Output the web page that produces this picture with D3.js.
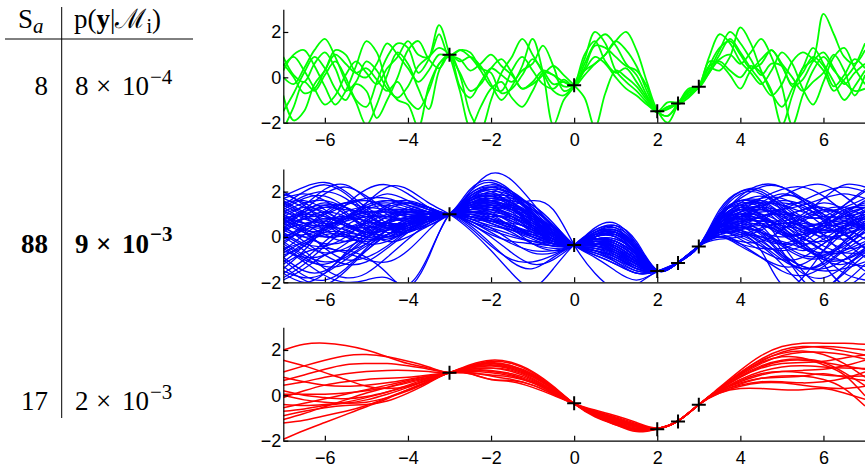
<!DOCTYPE html>
<html lang="en">
<head>
  <meta charset="utf-8">
  <script src="https://cdn.jsdelivr.net/npm/d3@7/dist/d3.min.js"></script>
  <title></title>
  <style>
    body { margin: 0; background: #fff; }
    .axis path, .axis line { stroke: #000; stroke-width: 1.2px; }
    .axis text { font-family: 'Liberation Sans', Arial, sans-serif; font-size: 18px; fill: #000; }
  </style>
</head>
<body>
<div id="chart"></div>
<script>
// ---- data ----
var xTicks = [-6, -4, -2, 0, 2, 4, 6];
var yTicks = [-2, 0, 2];

// observations (black crosses)
var obsX = [-3, 0, 2, 2.5, 3];
var obsY = [1.0, -0.35, -1.5, -1.15, -0.42];

// table
var sampleCounts = [8, 88, 17];
var evidenceMantissa = [8, 9, 2];
var evidenceExponent = [-4, -3, -3];

// samples: green every 0.25 from -7, blue and red every 0.5 from -7
var greenStep = 0.25, blueStep = 0.5, redStep = 0.5;

var greenSamples = [
  [0.9,0.1,-0.2,0.6, 1.1,0.4,-0.6,-0.2, 0.7,0.3,-0.5,-0.9, -0.4,0.5,0.9,1.3, 1.0,0.2,-0.6,-0.3, 0.4,0.8,0.2,-0.5, -0.2,0.3,0.1,-0.2, -0.35,0.6,1.5,1.9, 1.4,0.6,0.1,-0.8, -1.5,-1.7,-1.15,-0.6, -0.42,0.5,1.3,1.6, 1.0,0.4,0.8,1.2, 0.5,-0.3,0.2,0.9, 0.5,-0.4,0.1,0.8, 0.4],
  [0.0,-0.3,0.4,1.2, 1.7,0.9,-0.2,-1.1, -2.1,-1.2,0.1,1.1, 0.6,-0.5,-1.4,0.3, 1.05,0.1,-1.6,-2.3, -1.0,0.2,0.9,1.7, 1.0,0.2,-0.6,-0.8, -0.3,0.8,2.0,1.5, 0.3,-0.2,-0.6,-1.1, -1.55,-1.3,-1.2,-0.9, -0.4,0.9,1.9,1.5, 0.7,0.2,-0.3,0.3, 1.1,0.6,-0.5,-1.2, -0.2,0.9,1.3,0.4, -0.3],
  [-0.8,-1.9,-1.5,-0.3, 0.3,1.2,1.0,0.2, 0.0,0.6,1.5,1.0, 0.4,-0.2,0.3,1.0, 0.95,1.2,0.9,0.3, -0.4,-0.6,0.3,0.9, 0.3,-0.3,-0.5,-0.1, -0.4,0.1,0.6,1.0, 1.6,2.0,1.2,-0.2, -1.45,-2.0,-1.2,-0.5, -0.45,0.2,0.8,1.0, 0.6,1.1,1.7,0.9, -0.4,-2.1,-0.8,0.3, 0.9,0.3,-0.2,-0.6, -0.5],
  [0.3,1.0,1.2,0.5, -0.4,-1.2,-0.6,0.5, 1.6,1.1,-0.3,-1.0, -1.2,-2.2,-0.4,0.6, 1.0,-0.4,-0.9,-0.2, 0.4,0.1,-0.2,0.3, 0.6,1.4,0.5,-0.6, -0.35,0.4,1.4,1.3, 0.9,0.5,0.3,-0.4, -1.5,-1.4,-1.1,-0.7, -0.4,0.4,0.3,0.9, 2.2,1.5,0.3,-0.6, -2.1,-0.8,0.4,0.8, 2.8,1.9,0.9,0.6, 1.2],
  [-1.5,-0.7,0.2,0.9, 0.4,-0.5,-1.0,-0.3, -0.6,-1.8,-1.0,0.0, 1.2,1.6,0.8,0.4, 1.0,0.7,0.9,0.5, -0.3,-1.0,-0.4,0.5, 1.7,0.2,-2.1,-1.0, -0.4,1.0,1.6,0.7, 0.2,0.4,-0.2,-0.9, -1.5,-1.1,-1.1,-0.8, -0.45,0.7,0.6,0.1, -0.5,0.3,0.6,1.2, 0.6,0.0,-0.6,-0.2, 0.2,1.0,0.3,-0.8, 0.1],
  [-2.3,-1.3,-0.2,-0.6, 0.1,0.7,0.0,-1.0, -1.3,-0.2,0.9,1.5, 1.3,0.2,0.8,2.3, 1.0,-0.6,-2.2,-1.3, -0.5,-0.2,-0.9,-1.3, -0.6,0.2,0.1,-0.4, -0.3,0.3,0.6,1.0, 1.6,1.2,0.5,-0.6, -1.5,-1.7,-1.2,-0.6, -0.4,0.5,0.7,0.3, 0.0,0.5,0.2,-0.7, -1.3,-0.5,0.4,1.3, 0.6,-0.2,-1.0,-0.4, 0.3],
  [0.6,0.0,-0.7,-0.5, 0.3,1.0,0.6,0.2, 0.4,-0.1,-0.6,-0.2, -1.0,-1.4,-0.6,0.6, 0.9,0.8,0.3,0.6, 1.0,0.5,0.1,-0.5, -0.3,0.1,0.5,0.1, -0.35,-0.9,-2.2,-0.7, 0.3,0.0,-0.4,-1.0, -1.5,-1.3,-1.15,-0.6, -0.4,0.3,1.2,2.0, 1.5,0.8,0.1,0.6, 0.5,-0.4,-0.1,0.7, 1.1,0.4,-0.3,0.2, 0.6],
  [0.5,0.9,0.3,-0.5, -1.2,-0.8,0.1,0.7, 0.2,-0.3,0.4,0.9, 1.6,1.0,0.9,1.9, 0.9,1.2,1.1,0.4, 0.2,-0.7,-0.5,0.1, 0.8,0.3,-0.3,-0.2, -0.35,0.3,0.9,0.6, 0.0,-0.5,-0.8,-1.2, -1.5,-1.4,-1.15,-0.8, -0.42,0.2,1.0,1.7, 1.1,0.4,-0.2,-0.8, -0.3,0.7,1.1,0.8, 0.3,-0.6,-0.1,0.5, 1.5]
];

var blueSamples = [
  [1.8,2.2,2.4,2.0,1.3,0.9,0.8,0.9, 1.0,2.0,2.8,2.5,1.5,0.4,-0.35,-0.3,-0.6,-1.1,-1.5,-1.13,-0.41, 0.8,1.8,2.3,2.2,1.6,1.0,0.8,1.0],
  [0.5,1.2,1.9,2.2,1.8,1.2,0.9,0.9, 1.0,1.7,2.1,1.9,1.3,0.5,-0.35,-0.2,-0.5,-1.1,-1.5,-1.12,-0.42, 0.5,1.0,1.2,0.9,0.4,0.2,0.5,1.1],
  [-0.5,-0.2,0.5,1.4,2.1,2.3,1.9,1.3, 1.0,1.4,1.5,1.2,0.6,0.0,-0.35,-0.1,-0.3,-0.9,-1.5,-1.14,-0.40, 0.2,0.4,0.2,-0.3,-0.6,-0.3,0.4,1.0],
  [1.2,0.6,0.1,-0.2,0.1,0.7,1.3,1.3, 1.0,1.1,0.9,0.5,0.0,-0.3,-0.35,0.1,0.2,-0.6,-1.5,-1.15,-0.42, 1.0,1.9,1.9,1.2,0.4,0.0,0.1,0.4],
  [-1.8,-1.2,-0.4,0.3,0.6,0.6,0.6,0.8, 1.0,0.8,0.4,-0.2,-0.7,-0.7,-0.35,0.3,0.4,-0.5,-1.48,-1.13,-0.41, 0.4,0.9,1.1,1.2,1.4,1.7,1.9,1.7],
  [0.8,1.0,0.9,0.5,0.1,0.0,0.3,0.7, 1.0,1.6,1.8,1.5,0.9,0.2,-0.35,-0.6,-1.1,-1.6,-1.52,-1.12,-0.40, 0.0,-0.4,-0.9,-1.3,-1.2,-0.6,0.2,0.9],
  [1.5,1.6,1.2,0.6,0.4,0.7,1.2,1.3, 1.0,1.3,1.3,1.0,0.5,-0.1,-0.35,0.0,0.0,-0.8,-1.5,-1.13,-0.41, 0.6,1.2,1.3,0.8,0.0,-0.6,-0.7,-0.3],
  [-1.0,-1.7,-1.9,-1.4,-0.5,0.3,0.8,1.0, 1.0,0.9,0.6,0.2,-0.3,-0.5,-0.35,0.2,0.4,-0.3,-1.46,-1.14,-0.42, 0.9,1.5,1.3,0.5,-0.4,-1.0,-1.0,-0.5],
  [0.0,0.4,1.0,1.5,1.6,1.3,1.0,0.9, 1.0,1.9,2.3,2.0,1.2,0.3,-0.35,-0.5,-0.8,-1.3,-1.5,-1.12,-0.41, 0.3,0.7,0.9,1.2,1.6,2.0,2.2,2.0],
  [1.0,0.3,-0.5,-1.0,-0.9,-0.4,0.3,0.8, 1.0,1.2,1.0,0.4,-0.3,-0.6,-0.35,0.4,0.6,-0.3,-1.48,-1.13,-0.40, 0.7,1.3,1.5,1.4,1.1,0.9,0.9,1.1],
  [0.3,0.9,1.4,1.3,0.8,0.4,0.4,0.7, 1.0,1.5,1.6,1.3,0.7,0.1,-0.35,-0.3,-0.7,-1.3,-1.52,-1.13,-0.41, -0.1,0.0,0.3,0.8,1.2,1.3,0.9,0.3],
  [-0.6,0.1,0.7,0.9,0.7,0.5,0.6,0.8, 1.0,0.6,0.0,-0.7,-1.2,-1.0,-0.35,0.2,0.3,-0.5,-1.5,-1.14,-0.42, 0.5,0.6,0.1,-0.8,-1.6,-1.8,-1.3,-0.6],
  [2.0,1.4,0.6,0.0,-0.2,0.1,0.6,0.9, 1.0,1.8,2.1,1.6,0.7,-0.1,-0.35,-0.1,-0.4,-1.0,-1.5,-1.12,-0.40, 1.1,2.0,2.1,1.5,0.9,0.9,1.4,2.0],
  [-1.4,-0.6,0.4,1.1,1.3,1.2,1.1,1.0, 1.0,1.0,0.7,0.4,0.2,-0.1,-0.35,-0.4,-0.8,-1.4,-1.52,-1.13,-0.41, 0.2,0.1,-0.4,-1.2,-2.1,-2.3,-1.6,-0.8],
  [0.6,0.2,0.0,0.2,0.7,1.2,1.5,1.3, 1.0,1.4,1.7,1.7,1.4,0.6,-0.35,-0.9,-1.5,-1.9,-1.53,-1.12,-0.40, 0.6,0.8,0.7,0.6,0.8,1.2,1.3,0.9],
  [-0.2,-0.8,-1.1,-0.9,-0.3,0.3,0.7,0.9, 1.0,0.5,-0.3,-1.1,-1.4,-0.9,-0.35,0.1,0.0,-0.7,-1.5,-1.14,-0.42, 0.4,1.1,1.7,2.1,2.2,1.8,1.1,0.4],
  [1.1,1.5,1.6,1.3,1.0,0.9,1.0,1.0, 1.0,1.2,1.2,1.0,0.6,0.1,-0.35,-0.2,-0.4,-1.0,-1.5,-1.13,-0.41, 0.8,1.2,0.8,0.1,-0.3,-0.1,0.5,0.9],
  [0.2,-0.3,-0.4,0.0,0.7,1.3,1.5,1.2, 1.0,1.6,1.9,1.7,1.0,0.2,-0.35,-0.4,-0.6,-1.1,-1.5,-1.13,-0.41, 0.1,0.3,0.7,1.3,1.5,1.0,0.2,-0.5],
  [-0.9,-1.5,-1.5,-0.8,0.0,0.5,0.6,0.7, 1.0,0.9,0.9,0.9,0.7,0.2,-0.35,-0.6,-0.9,-1.4,-1.51,-1.13,-0.41, 0.7,1.5,1.8,1.4,0.7,0.3,0.4,0.8],
  [1.6,1.1,0.8,0.9,1.3,1.6,1.5,1.2, 1.0,1.3,1.1,0.6,0.0,-0.3,-0.35,0.0,0.1,-0.7,-1.49,-1.13,-0.41, 0.3,0.3,0.0,-0.3,-0.2,0.4,1.1,1.5],
  [0.7,0.5,0.4,0.8,1.5,2.2,2.1,1.5, 1.0,0.3,-0.6,-1.6,-2.2,-1.4,-0.35,0.3,0.5,-0.4,-1.47,-1.14,-0.42, 0.9,1.4,0.9,-0.3,-1.5,-2.2,-2.0,-1.2],
  [-1.6,-2.0,-1.6,-0.7,0.2,0.7,0.8,0.8, 1.0,1.5,1.4,0.9,0.3,-0.2,-0.35,-0.1,-0.2,-0.8,-1.5,-1.13,-0.41, 0.5,0.9,1.3,1.8,2.2,2.3,1.8,1.1],
  [0.4,0.8,0.6,0.1,-0.3,-0.2,0.3,0.8, 1.0,1.1,1.2,1.4,1.6,1.2,-0.35,-1.6,-2.3,-2.1,-1.52,-1.12,-0.40, 0.0,-0.2,-0.2,0.3,0.9,1.2,1.0,0.4],
  [1.3,0.8,0.6,0.7,0.9,0.8,0.7,0.8, 1.0,0.7,0.3,0.0,-0.2,-0.3,-0.35,-0.1,-0.3,-0.9,-1.5,-1.13,-0.41, 0.6,1.3,1.6,1.2,0.5,-0.1,-0.5,-0.4],
  [-0.3,0.4,1.1,1.5,1.2,0.6,0.3,0.5, 1.0,1.7,1.8,1.3,0.4,-0.3,-0.35,0.2,0.2,-0.6,-1.5,-1.13,-0.41, 0.4,0.8,0.6,0.2,0.1,0.5,1.0,1.3],
  [0.9,1.4,2.1,2.3,1.7,1.0,0.7,0.8, 1.0,1.4,1.4,1.1,0.8,0.3,-0.35,-0.7,-1.1,-1.5,-1.51,-1.13,-0.41, 1.0,1.6,1.4,0.7,0.2,0.3,0.7,0.8],
  [-1.2,-0.7,-0.5,-0.7,-1.0,-1.1,-0.6,0.3, 1.0,0.8,0.5,0.3,0.1,-0.2,-0.35,-0.2,-0.5,-1.1,-1.5,-1.13,-0.41, 0.2,0.5,0.9,1.1,0.8,0.1,-0.8,-1.5],
  [0.1,0.1,0.4,0.9,1.4,1.6,1.4,1.1, 1.0,2.0,2.4,1.9,0.9,0.0,-0.35,0.0,0.1,-0.6,-1.49,-1.13,-0.41, 0.7,1.0,0.5,-0.6,-1.9,-2.3,-1.5,-0.5],
  [1.7,1.9,1.6,1.0,0.5,0.4,0.6,0.9, 1.0,1.5,1.7,1.5,1.0,0.3,-0.35,-0.3,-0.5,-1.0,-1.5,-1.13,-0.41, 0.3,0.2,-0.6,-2.1,-1.8,-0.6,0.4,0.8],
  [-0.7,-0.2,0.2,0.2,0.0,-0.1,0.3,0.8, 1.0,1.1,0.8,0.3,-0.1,-0.4,-0.35,0.0,0.2,-0.5,-1.49,-1.13,-0.41, 0.8,1.4,1.5,1.0,0.6,0.6,0.9,1.3],
  [0.5,-0.2,-0.8,-1.2,-1.1,-0.5,0.2,0.7, 1.0,1.9,2.2,1.8,1.0,0.2,-0.35,-0.2,-0.3,-0.9,-1.5,-1.13,-0.41, 0.1,0.6,1.3,1.8,1.7,1.2,0.7,0.5],
  [1.0,1.3,1.1,0.6,0.2,0.3,0.7,1.0, 1.0,1.3,1.5,1.4,1.0,0.3,-0.35,-0.5,-0.9,-1.4,-1.51,-1.13,-0.41, 0.6,1.0,0.8,0.7,1.0,1.7,2.3,2.2],
  [-0.4,-1.0,-1.2,-0.8,-0.1,0.6,1.1,1.1, 1.0,0.7,0.2,-0.3,-0.6,-0.6,-0.35,0.1,0.2,-0.6,-1.5,-1.13,-0.41, 0.4,0.3,-0.1,-0.3,0.0,0.3,0.1,-0.5],
  [0.9,0.6,0.5,0.8,1.1,1.1,0.9,0.9, 1.0,1.6,1.6,1.1,0.4,-0.2,-0.35,0.1,0.3,-0.4,-1.48,-1.13,-0.41, 1.2,2.0,2.0,1.3,0.5,0.2,0.3,0.5],
  [1.4,2.0,2.3,1.9,1.1,0.5,0.4,0.7, 1.0,1.2,1.3,1.2,0.9,0.4,-0.35,-0.8,-1.2,-1.6,-1.52,-1.13,-0.41, 0.5,0.9,1.0,0.6,-0.2,-1.2,-2.1,-1.6],
  [-1.9,-1.4,-0.8,-0.6,-0.9,-1.6,-2.2,-0.9, 1.0,0.9,0.8,0.5,0.1,-0.2,-0.35,-0.3,-0.5,-1.1,-1.5,-1.13,-0.41, 0.3,0.6,0.9,1.0,0.9,0.8,0.6,0.4],
  [0.3,0.0,0.2,0.7,1.2,1.4,1.2,1.0, 1.0,1.8,2.0,1.4,0.5,-0.2,-0.35,0.0,0.0,-0.7,-1.5,-1.13,-0.41, 0.9,1.7,2.2,2.2,1.7,1.2,1.3,1.7],
  [1.2,1.7,1.8,1.3,0.6,0.2,0.3,0.6, 1.0,0.6,0.1,-0.2,-0.3,-0.4,-0.35,-0.1,-0.2,-0.9,-1.5,-1.13,-0.41, 0.0,0.1,0.4,0.6,0.5,0.1,-0.1,0.2],
  [-0.1,0.5,0.8,0.6,0.2,0.1,0.5,0.9, 1.0,1.4,1.6,1.6,1.2,0.5,-0.35,-0.6,-0.8,-1.2,-1.5,-1.13,-0.41, 0.6,1.1,1.2,1.0,1.2,1.5,1.2,0.5],
  [0.6,1.0,1.3,1.5,1.7,1.7,1.4,1.1, 1.0,1.0,1.0,0.7,0.3,-0.1,-0.35,-0.1,-0.1,-0.7,-1.5,-1.13,-0.41, 0.4,0.5,0.2,-0.4,-0.9,-0.9,-0.3,0.4],
  [-1.3,-1.9,-2.1,-1.5,-0.6,0.1,0.5,0.8, 1.0,1.7,1.9,1.5,0.8,0.1,-0.35,-0.2,-0.4,-1.0,-1.5,-1.13,-0.41, 0.7,1.2,1.4,1.5,1.3,0.8,0.1,-0.5],
  [0.8,0.3,0.3,0.8,1.5,1.9,1.6,1.2, 1.0,0.4,-0.4,-1.0,-1.1,-0.8,-0.35,0.1,0.2,-0.5,-1.49,-1.13,-0.41, 0.2,0.8,1.5,1.9,1.6,0.9,0.5,0.7],
  [1.9,1.5,1.0,0.5,0.2,0.3,0.6,0.9, 1.0,1.3,1.2,0.8,0.2,-0.3,-0.35,0.2,0.5,-0.2,-1.47,-1.13,-0.41, 0.5,0.7,0.5,0.4,0.7,1.1,1.0,0.4],
  [-0.8,-0.4,0.3,0.9,0.9,0.4,0.2,0.6, 1.0,1.5,1.8,1.8,1.4,0.6,-0.35,-0.8,-1.2,-1.6,-1.52,-1.13,-0.41, 1.0,1.6,1.5,0.8,0.3,0.4,1.0,1.6],
  [0.0,-0.6,-1.4,-1.8,-1.6,-0.9,-0.1,0.6, 1.0,1.1,1.0,0.8,0.5,0.1,-0.35,-0.5,-0.7,-1.2,-1.5,-1.13,-0.41, 0.3,0.4,0.5,0.2,-0.4,-1.0,-1.2,-0.7],
  [1.1,0.9,1.0,1.4,1.6,1.3,0.9,0.8, 1.0,2.1,2.5,2.0,1.0,0.1,-0.35,-0.1,-0.2,-0.8,-1.5,-1.13,-0.41, 0.8,1.4,1.7,1.7,1.2,0.5,0.2,0.4],
  [0.4,1.1,1.5,1.1,0.4,0.0,0.2,0.7, 1.0,0.8,0.7,0.6,0.4,0.0,-0.35,-0.3,-0.4,-1.0,-1.5,-1.13,-0.41, 0.4,0.9,1.2,0.9,0.5,0.7,1.4,2.1],
  [-0.5,-1.1,-1.7,-2.0,-1.9,-1.8,-2.1,-0.8, 1.0,1.4,1.3,0.9,0.3,-0.2,-0.35,0.1,0.3,-0.5,-1.49,-1.13,-0.41, 0.6,0.9,0.6,0.1,0.1,0.6,1.2,1.4],
  [1.5,1.0,0.5,0.4,0.8,1.4,1.6,1.3, 1.0,1.2,1.4,1.3,0.9,0.2,-0.35,-0.4,-0.7,-1.2,-1.5,-1.13,-0.41, 0.2,-0.1,-0.6,-1.0,-0.9,-0.3,0.3,0.6],
  [-1.6,-1.0,-0.2,0.5,0.9,0.9,0.8,0.9, 1.0,1.6,2.0,1.8,1.1,0.2,-0.35,-0.2,-0.5,-1.1,-1.5,-1.13,-0.41, 0.4,0.3,-0.3,-1.0,-1.4,-1.2,-0.5,0.3],
  [0.2,0.8,1.1,0.9,0.5,0.3,0.5,0.8, 1.0,0.9,0.7,0.4,0.0,-0.3,-0.35,0.0,0.1,-0.6,-1.5,-1.13,-0.41, 0.6,0.8,0.2,-0.7,-1.3,-1.4,-1.0,-0.3],
  [1.3,1.8,2.0,1.7,1.0,0.5,0.5,0.8, 1.0,1.4,1.5,1.2,0.6,0.0,-0.35,-0.2,-0.5,-1.1,-1.5,-1.13,-0.41, 0.3,0.5,0.6,0.3,-0.3,-0.9,-1.6,-1.9],
  [-0.3,-0.9,-1.3,-1.2,-0.6,0.1,0.6,0.9, 1.0,1.2,1.4,1.3,1.0,0.4,-0.35,-0.7,-1.0,-1.4,-1.51,-1.13,-0.41, 0.5,1.0,0.9,0.3,-0.4,-0.7,-0.4,0.2],
  [0.9,0.4,0.0,0.1,0.6,1.0,1.1,1.0, 1.0,1.5,1.7,1.4,0.8,0.1,-0.35,-0.1,-0.3,-0.9,-1.5,-1.13,-0.41, 0.2,0.2,-0.2,-0.8,-1.3,-1.5,-1.4,-1.1],
  [-1.1,-0.4,0.4,0.8,0.7,0.4,0.5,0.8, 1.0,1.1,1.1,0.9,0.5,0.0,-0.35,-0.2,-0.3,-0.9,-1.5,-1.13,-0.41, 0.7,1.2,1.0,0.4,-0.1,-0.2,0.1,0.5],
  [0.4,0.0,-0.3,-0.2,0.3,0.9,1.2,1.1, 1.0,1.7,2.2,2.0,1.3,0.4,-0.35,-0.6,-1.0,-1.5,-1.52,-1.13,-0.41, 0.4,0.6,0.3,-0.3,-0.8,-0.8,-0.2,0.6],
  [1.7,1.3,0.9,0.8,1.0,1.2,1.2,1.1, 1.0,0.9,0.6,0.3,0.0,-0.2,-0.35,-0.3,-0.6,-1.2,-1.5,-1.13,-0.41, 0.1,-0.3,-0.9,-1.5,-1.7,-1.3,-0.6,0.0],
  [-0.2,0.3,0.5,0.3,0.0,0.0,0.4,0.8, 1.0,1.3,1.4,1.2,0.7,0.1,-0.35,-0.3,-0.4,-1.0,-1.5,-1.13,-0.41, 0.9,1.6,1.6,1.0,0.2,-0.4,-0.7,-0.7],
  [0.7,1.2,1.4,1.0,0.3,-0.2,0.0,0.5, 1.0,1.5,1.6,1.2,0.5,-0.1,-0.35,0.0,0.2,-0.5,-1.49,-1.13,-0.41, 0.3,0.4,0.2,0.0,0.2,0.5,0.4,-0.1],
  [-0.9,-0.3,0.1,0.1,-0.1,0.0,0.5,0.9, 1.0,1.0,0.8,0.5,0.1,-0.2,-0.35,-0.2,-0.4,-1.0,-1.5,-1.13,-0.41, 0.5,0.5,-0.1,-0.9,-1.4,-1.1,-0.2,0.7],
  [1.0,0.6,0.5,0.8,1.3,1.5,1.3,1.0, 1.0,1.8,2.2,1.9,1.1,0.2,-0.35,-0.3,-0.6,-1.2,-1.5,-1.13,-0.41, 0.6,1.1,1.4,1.6,1.4,0.7,-0.2,-0.9],
  [0.1,-0.4,-0.7,-0.5,0.0,0.4,0.6,0.8, 1.0,1.2,1.2,0.9,0.4,-0.1,-0.35,-0.1,-0.1,-0.7,-1.5,-1.13,-0.41, 0.2,0.0,-0.4,-0.6,-0.4,0.1,0.7,1.2],
  [-1.5,-1.8,-1.6,-1.0,-0.4,0.1,0.5,0.8, 1.0,1.6,1.8,1.5,0.8,0.1,-0.35,-0.3,-0.6,-1.2,-1.5,-1.13,-0.41, 0.8,1.3,1.0,0.2,-0.5,-0.8,-0.6,-0.2],
  [0.6,1.1,1.3,1.2,1.1,1.1,1.1,1.0, 1.0,1.1,1.0,0.7,0.3,-0.1,-0.35,-0.1,-0.2,-0.8,-1.5,-1.13,-0.41, 0.0,-0.3,-0.5,-0.5,-0.1,0.6,1.2,1.3],
  [1.4,0.9,0.3,0.0,0.2,0.6,0.9,1.0, 1.0,1.3,1.6,1.6,1.2,0.5,-0.35,-0.6,-0.9,-1.3,-1.5,-1.13,-0.41, 0.5,0.9,0.8,0.5,0.4,0.6,0.7,0.4],
  [-0.6,-0.9,-0.8,-0.3,0.4,0.9,1.1,1.0, 1.0,0.7,0.4,0.1,-0.2,-0.4,-0.35,0.0,0.1,-0.6,-1.5,-1.13,-0.41, 0.4,0.7,0.7,0.5,0.0,-0.6,-1.1,-1.3],
  [0.3,0.6,0.7,0.5,0.4,0.6,0.9,1.0, 1.0,1.4,1.6,1.3,0.7,0.0,-0.35,-0.1,-0.2,-0.8,-1.5,-1.13,-0.41, 0.6,1.1,1.3,1.1,0.7,0.5,0.6,0.9],
  [0.8,0.2,-0.4,-0.6,-0.3,0.3,0.8,1.0, 1.0,0.9,0.7,0.5,0.2,-0.1,-0.35,-0.4,-0.7,-1.2,-1.5,-1.13,-0.41, 0.3,0.2,0.0,-0.2,-0.5,-0.9,-1.0,-0.6]
];

var redSamples = [
  [2.0,2.25,2.3,2.2,2.0,1.7,1.4,1.2,1.0, 1.2,1.3,1.15,0.8,0.25,-0.37,-0.85,-1.15,-1.4,-1.47,-1.13,-0.41, 0.35,1.1,1.75,2.15,2.3,2.3,2.3,2.25],
  [1.55,1.3,1.0,0.7,0.4,0.3,0.4,0.7,1.0, 1.35,1.55,1.45,1.05,0.4,-0.37,-0.95,-1.3,-1.55,-1.47,-1.13,-0.41, 0.3,0.95,1.5,1.9,2.1,2.15,2.1,2.0],
  [1.03,1.3,1.55,1.75,1.8,1.7,1.5,1.25,1.0, 1.1,1.1,0.95,0.65,0.15,-0.37,-0.75,-1.05,-1.3,-1.45,-1.13,-0.41, 0.25,0.8,1.25,1.5,1.55,1.45,1.3,1.15],
  [0.8,0.6,0.45,0.4,0.45,0.55,0.7,0.85,1.0, 1.25,1.4,1.3,0.95,0.35,-0.37,-0.9,-1.25,-1.5,-1.47,-1.13,-0.41, 0.3,0.9,1.4,1.75,1.9,1.9,1.8,1.6],
  [0.65,0.9,1.15,1.35,1.4,1.4,1.3,1.15,1.0, 1.0,0.85,0.7,0.45,0.05,-0.37,-0.7,-0.95,-1.25,-1.45,-1.13,-0.41, 0.2,0.65,0.95,1.05,1.0,0.9,0.85,0.85],
  [0.45,0.6,0.8,0.95,1.05,1.1,1.1,1.05,1.0, 1.15,1.2,1.05,0.7,0.2,-0.37,-0.8,-1.1,-1.4,-1.47,-1.13,-0.41, 0.3,1.0,1.6,2.0,2.15,2.1,1.95,1.78],
  [0.2,0.0,-0.1,-0.15,-0.05,0.15,0.4,0.7,1.0, 1.3,1.5,1.4,1.0,0.35,-0.37,-0.9,-1.3,-1.6,-1.48,-1.13,-0.41, 0.15,0.45,0.6,0.6,0.55,0.6,0.75,1.03],
  [0.05,0.05,0.05,0.1,0.2,0.35,0.55,0.78,1.0, 0.95,0.7,0.6,0.35,0.0,-0.37,-0.65,-0.9,-1.2,-1.45,-1.13,-0.41, 0.25,0.85,1.3,1.55,1.6,1.45,1.0,0.43],
  [0.0,-0.2,-0.3,-0.35,-0.3,-0.1,0.2,0.6,1.0, 1.2,1.3,1.2,0.85,0.25,-0.37,-0.85,-1.2,-1.45,-1.47,-1.13,-0.41, 0.2,0.6,0.9,1.05,1.1,1.15,1.3,1.55],
  [-0.1,0.2,0.45,0.6,0.7,0.75,0.8,0.9,1.0, 1.05,1.0,0.85,0.55,0.1,-0.37,-0.75,-1.0,-1.3,-1.46,-1.13,-0.41, 0.1,0.3,0.3,0.25,0.25,0.3,0.1,-0.17],
  [-0.4,-0.45,-0.4,-0.3,-0.1,0.15,0.45,0.75,1.0, 1.3,1.45,1.3,0.9,0.3,-0.37,-0.85,-1.2,-1.5,-1.47,-1.13,-0.41, 0.2,0.7,1.05,1.25,1.3,1.25,1.2,1.18],
  [-0.55,-0.35,-0.15,0.05,0.25,0.45,0.65,0.85,1.0, 1.1,1.05,0.9,0.6,0.15,-0.37,-0.8,-1.1,-1.35,-1.46,-1.13,-0.41, 0.3,1.0,1.55,1.85,1.95,1.8,1.4,0.8],
  [-0.7,-0.6,-0.45,-0.35,-0.2,0.05,0.35,0.7,1.0, 1.25,1.35,1.2,0.85,0.3,-0.37,-0.9,-1.25,-1.55,-1.48,-1.13,-0.41, 0.15,0.5,0.75,0.85,0.85,0.7,0.3,-0.47],
  [-0.9,-0.7,-0.55,-0.45,-0.4,-0.25,0.1,0.55,1.0, 0.95,0.7,0.65,0.45,0.05,-0.37,-0.7,-1.0,-1.3,-1.46,-1.13,-0.41, 0.25,0.8,1.2,1.4,1.45,1.5,1.65,1.78],
  [-1.07,-0.8,-0.5,-0.2,0.1,0.35,0.6,0.8,1.0, 1.15,1.2,1.1,0.75,0.2,-0.37,-0.8,-1.15,-1.4,-1.47,-1.13,-0.41, 0.2,0.55,0.75,0.8,0.85,0.95,0.8,0.65],
  [-1.22,-1.1,-0.9,-0.7,-0.45,-0.1,0.25,0.65,1.0, 1.3,1.4,1.25,0.9,0.3,-0.37,-0.9,-1.25,-1.5,-1.47,-1.13,-0.41, 0.3,0.95,1.45,1.7,1.65,1.35,0.9,-0.02],
  [-1.94,-1.55,-1.2,-0.85,-0.5,-0.15,0.25,0.6,1.0, 1.0,0.9,0.8,0.55,0.1,-0.37,-0.75,-1.05,-1.35,-1.46,-1.13,-0.41, 0.1,0.4,0.55,0.55,0.45,0.35,0.3,0.4]
];

// ---- layout ----
var width = 865, height = 464;

var svg = d3.select('#chart')
  .append('svg')
  .attr('width', width)
  .attr('height', height);

var xScale = d3.scaleLinear()
  .domain([-7, 7])
  .range([283.3, 865]);

var panels = [
  { samples: greenSamples, step: greenStep, color: '#00ff00', stroke: 1.8, curve: d3.curveCatmullRom.alpha(0.5), top: 9.3, bottom: 122.7 },
  { samples: blueSamples, step: blueStep, color: '#0000ff', stroke: 1.3, curve: d3.curveNatural, top: 168.9, bottom: 282.3 },
  { samples: redSamples, step: redStep, color: '#ff0000', stroke: 1.5, curve: d3.curveNatural, top: 327.3, bottom: 440.7 }
];

panels.forEach(function(p, k) {

  var yScale = d3.scaleLinear()
    .domain([-2, 3])
    .range([p.bottom, p.top]);

  svg.append('clipPath')
    .attr('id', 'clip' + k)
    .append('rect')
    .attr('x', xScale(-7))
    .attr('y', p.top)
    .attr('width', xScale(7) - xScale(-7))
    .attr('height', p.bottom - p.top);

  var line = d3.line()
    .x(function(d, i) { return xScale(-7 + i * p.step); })
    .y(function(d) { return yScale(d); })
    .curve(p.curve);

  svg.append('g')
    .attr('clip-path', 'url(#clip' + k + ')')
    .selectAll('path')
    .data(p.samples)
    .enter()
    .append('path')
    .attr('d', line)
    .attr('fill', 'none')
    .attr('stroke', p.color)
    .attr('stroke-width', p.stroke)
    .attr('stroke-linejoin', 'round');

  // axes, ticks pointing inward
  svg.append('g')
    .attr('class', 'axis')
    .attr('transform', 'translate(0,' + p.bottom + ')')
    .call(d3.axisBottom(xScale).tickValues(xTicks).tickFormat(d3.format('d'))
      .tickSizeInner(-5).tickSizeOuter(0).tickPadding(11));

  svg.append('g')
    .attr('class', 'axis')
    .attr('transform', 'translate(' + xScale(-7) + ',0)')
    .call(d3.axisLeft(yScale).tickValues(yTicks).tickFormat(d3.format('d'))
      .tickSizeInner(-5).tickSizeOuter(0).tickPadding(2));

  // observations
  svg.append('g')
    .selectAll('path')
    .data(d3.zip(obsX, obsY))
    .enter()
    .append('path')
    .attr('transform', function(d) { return 'translate(' + xScale(d[0]) + ',' + yScale(d[1]) + ')'; })
    .attr('d', 'M-7,0H7M0,-7V7')
    .attr('stroke', '#000')
    .attr('stroke-width', 2);
});

// ---- table on the left ----
var table = svg.append('g')
  .attr('font-family', "'Liberation Serif', 'DejaVu Serif', serif")
  .attr('fill', '#000');

table.append('line')
  .attr('x1', 5).attr('x2', 193).attr('y1', 39).attr('y2', 39)
  .attr('stroke', '#000').attr('stroke-width', 1);

table.append('line')
  .attr('x1', 61.7).attr('x2', 61.7).attr('y1', 7).attr('y2', 418)
  .attr('stroke', '#000').attr('stroke-width', 1);

var h1 = table.append('text').attr('x', 18).attr('y', 28).attr('font-size', 27);
h1.append('tspan').text('S');
h1.append('tspan').attr('font-size', 21).attr('font-style', 'italic').attr('dy', 5).text('a');

var h2 = table.append('text').attr('x', 74).attr('y', 28).attr('font-size', 27);
h2.append('tspan').text('p');
h2.append('tspan').text('(');
h2.append('tspan').attr('font-weight', 'bold').text('y');
h2.append('tspan').text('|');
h2.append('tspan').text('ℳ');
h2.append('tspan').attr('font-size', 20).attr('dy', 5).text('i');
h2.append('tspan').attr('dy', -5).text(')');

var evidence = evidenceMantissa.map(function(m, i) { return m * Math.pow(10, evidenceExponent[i]); });
var best = evidence.indexOf(d3.max(evidence));
var rowY = [95, 252.7, 410];

sampleCounts.forEach(function(s, i) {
  var weight = i === best ? 'bold' : 'normal';

  table.append('text')
    .attr('x', 48).attr('y', rowY[i])
    .attr('text-anchor', 'end')
    .attr('font-size', 27)
    .attr('font-weight', weight)
    .text(s);

  var t = table.append('text')
    .attr('y', rowY[i])
    .attr('font-size', 27)
    .attr('font-weight', weight);
  t.append('tspan').attr('x', 75).text(evidenceMantissa[i]);
  t.append('tspan').attr('x', 96).text('×');
  t.append('tspan').attr('x', 122).text('10');
  t.append('tspan').attr('x', 150).attr('dy', -11.5).attr('font-size', 21)
    .text('−' + Math.abs(evidenceExponent[i]));
});
</script>
</body>
</html>
